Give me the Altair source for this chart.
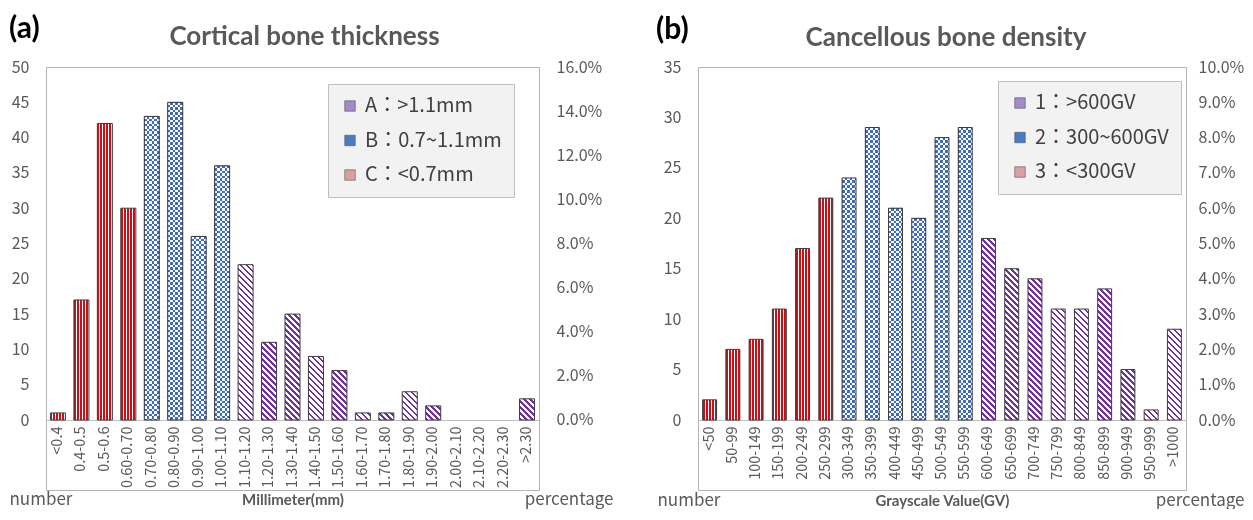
import altair as alt
import pandas as pd

# ---------------- data ----------------
cats_a = ["<0.4", "0.4-0.5", "0.5-0.6", "0.60-0.70", "0.70-0.80", "0.80-0.90", "0.90-1.00",
          "1.00-1.10", "1.10-1.20", "1.20-1.30", "1.30-1.40", "1.40-1.50", "1.50-1.60",
          "1.60-1.70", "1.70-1.80", "1.80-1.90", "1.90-2.00", "2.00-2.10", "2.10-2.20",
          "2.20-2.30", ">2.30"]
counts_a = [1, 17, 42, 30, 43, 45, 26, 36, 22, 11, 15, 9, 7, 1, 1, 4, 2, 0, 0, 0, 3]
groups_a = ["C"] * 4 + ["B"] * 4 + ["A"] * 13
legend_a = ["A：>1.1mm", "B：0.7~1.1mm", "C：<0.7mm"]
yticks_a = [0, 5, 10, 15, 20, 25, 30, 35, 40, 45, 50]
pticks_a = [0.0, 0.02, 0.04, 0.06, 0.08, 0.10, 0.12, 0.14, 0.16]

cats_b = ["<50", "50-99", "100-149", "150-199", "200-249", "250-299", "300-349", "350-399",
          "400-449", "450-499", "500-549", "550-599", "600-649", "650-699", "700-749",
          "750-799", "800-849", "850-899", "900-949", "950-999", ">1000"]
counts_b = [2, 7, 8, 11, 17, 22, 24, 29, 21, 20, 28, 29, 18, 15, 14, 11, 11, 13, 5, 1, 9]
groups_b = ["3"] * 6 + ["2"] * 6 + ["1"] * 9
legend_b = ["1：>600GV", "2：300~600GV", "3：<300GV"]
yticks_b = [0, 5, 10, 15, 20, 25, 30, 35]
pticks_b = [0.0, 0.01, 0.02, 0.03, 0.04, 0.05, 0.06, 0.07, 0.08, 0.09, 0.10]

# ---------------- styles ----------------
RED = "#c0141c"
BLUE = "#3d6cc0"
PURPLE = "#7030a0"
WHITE = "#ffffff"
GRAY = "#595959"
LEG_COLORS = ["#a28acb", "#4a7cc6", "#d9a0a0"]
TICK_FONT = "Noto Sans CJK TC"
TITLE_FONT = "Lato"


def stripe_stops(c1, c2, n, frac):
    stops = []
    k = 0
    while k / n < 1:
        a = k / n
        b = min((k + frac) / n, 1.0)
        c = min((k + 1) / n, 1.0)
        stops += [{"offset": round(a, 5), "color": c1}, {"offset": round(b, 5), "color": c1},
                  {"offset": round(b, 5), "color": c2}, {"offset": round(c, 5), "color": c2}]
        k += 1
    return stops


def panel(cats, counts, groups, leg_labels, letter, title, xtitle, W, H, ymin, ymax, yvals,
          pmin, pmax, pvals, pin, pout, xoff, legx, legy, letter_x, letter_y, title_dx,
          title_y, num_x, pct_x, bottom_y, pct_pad):
    n = len(cats)
    step = W / (n - pin + 2 * pout)
    bw = step * (1 - pin)
    ppu = H / (ymax - ymin)
    keys = sorted(set(groups))
    lab = dict(zip(keys, leg_labels))
    df = pd.DataFrame({"cat": cats, "count": counts, "grp": groups})
    df["legend"] = [lab[g] for g in groups]
    base = alt.Chart(df)

    x_enc = alt.X(
        "cat:N", sort=cats,
        scale=alt.Scale(domain=cats, paddingInner=pin, paddingOuter=pout),
        axis=alt.Axis(title=xtitle, labelAngle=270, ticks=False, grid=False,
                      domainColor="#bfbfbf", domainWidth=1, offset=xoff, labelPadding=6,
                      labelFont=TICK_FONT, labelFontSize=14.5, labelColor=GRAY,
                      labelOverlap=False,
                      titleFont=TITLE_FONT, titleFontWeight="bold", titleFontSize=15,
                      titleColor=GRAY, titleY=bottom_y - xoff - H, titleBaseline="middle"))
    y_enc = alt.Y(
        "count:Q",
        scale=alt.Scale(domain=[ymin, ymax], nice=False, zero=False),
        axis=alt.Axis(values=yvals, domain=False, ticks=False, grid=False, labelPadding=17,
                      labelFont=TICK_FONT, labelFontSize=16, labelColor=GRAY,
                      title="number", titleAngle=0, titleAlign="left", titleBaseline="middle",
                      titleX=num_x, titleY=bottom_y, titleFont=TICK_FONT,
                      titleFontWeight="normal", titleFontSize=17, titleColor=GRAY))

    layers = []
    for cat, cnt, grp in zip(cats, counts, groups):
        if cnt <= 0:
            continue
        h = cnt * ppu
        sel = base.transform_filter(alt.datum.cat == cat)
        kind = keys.index(grp)
        if kind == 2:
            grad = {"gradient": "linear", "x1": 0, "y1": 0, "x2": 1, "y2": 0,
                    "stops": stripe_stops(RED, WHITE, bw / 3.0, 0.67)}
            layers.append(sel.mark_bar(fill=grad, strokeWidth=0).encode(x=x_enc, y=y_enc))
        elif kind == 0:
            c = (bw + h) / (bw * bw + h * h)
            grad = {"gradient": "linear", "x1": 0, "y1": 1, "x2": c * bw, "y2": 1 - c * h,
                    "stops": stripe_stops(PURPLE, WHITE, (bw + h) / 6.0, 0.42)}
            layers.append(sel.mark_bar(fill=grad, strokeWidth=0).encode(x=x_enc, y=y_enc))
        else:
            g1 = {"gradient": "linear", "x1": 0, "y1": 0, "x2": 1, "y2": 0,
                  "stops": stripe_stops("#000000", WHITE, bw / 5.0, 0.5)}
            g2 = {"gradient": "linear", "x1": 0, "y1": 0, "x2": 0, "y2": 1,
                  "stops": stripe_stops(WHITE, "#000000", h / 5.0, 0.5)}
            layers.append(sel.mark_bar(fill=g1, strokeWidth=0).encode(x=x_enc, y=y_enc))
            layers.append(sel.mark_bar(fill=g2, strokeWidth=0, blend="difference")
                          .encode(x=x_enc, y=y_enc))
            layers.append(sel.mark_bar(fill=BLUE, strokeWidth=0, blend="lighten")
                          .encode(x=x_enc, y=y_enc))

    layers.append(base.transform_filter(alt.datum.count > 0)
                  .mark_bar(fillOpacity=0, stroke="#3c3c3c", strokeWidth=1)
                  .encode(x=x_enc, y=y_enc))
    layers.append(base.mark_square(opacity=0, size=10).encode(
        x=x_enc, y=y_enc,
        color=alt.Color("legend:N",
                        scale=alt.Scale(domain=leg_labels, range=LEG_COLORS),
                        legend=alt.Legend(title=None, orient="none", legendX=legx, legendY=legy,
                                          direction="vertical", fillColor="#f2f2f2",
                                          strokeColor="#bfbfbf", padding=12,
                                          symbolType="square", symbolSize=110,
                                          symbolOpacity=1, symbolStrokeColor="#555555",
                                          symbolStrokeWidth=0.6, labelFont=TICK_FONT,
                                          labelFontSize=20, labelColor="#404040",
                                          rowPadding=14.5, labelOffset=5))))
    bars = alt.layer(*layers)

    pct = alt.Chart(pd.DataFrame({"p": pvals})).mark_point(opacity=0).encode(
        y=alt.Y("p:Q", scale=alt.Scale(domain=[pmin, pmax], nice=False, zero=False),
                axis=alt.Axis(orient="right", values=pvals, format=".1%", domain=False,
                              ticks=False, grid=False, labelPadding=pct_pad,
                              labelFont=TICK_FONT,
                              labelFontSize=16, labelColor=GRAY, title="percentage",
                              titleAngle=0, titleAlign="right", titleBaseline="middle",
                              titleX=pct_x, titleY=bottom_y, titleFont=TICK_FONT,
                              titleFontWeight="normal", titleFontSize=17, titleColor=GRAY)))

    letter_layer = alt.Chart(pd.DataFrame({"t": [letter]})).mark_text(
        font=TITLE_FONT, fontWeight="bold", fontSize=30, color="#000000", align="left",
        baseline="alphabetic").encode(text="t:N", x=alt.value(letter_x), y=alt.value(letter_y))
    title_layer = alt.Chart(pd.DataFrame({"t": [title]})).mark_text(
        font=TITLE_FONT, fontWeight="bold", fontSize=26, color=GRAY, align="center",
        baseline="alphabetic").encode(text="t:N", x=alt.value(W / 2 + title_dx),
                                      y=alt.value(title_y))

    return alt.layer(bars, pct, letter_layer, title_layer).resolve_scale(
        y="independent").properties(width=W, height=H)


left = panel(cats_a, counts_a, groups_a, legend_a, "(a)", "Cortical bone thickness",
             "Millimeter(mm)", W=493, H=423, ymin=-9.915, ymax=50, yvals=yticks_a,
             pmin=-0.03173, pmax=0.16, pvals=pticks_a, pin=0.36, pout=0.19, xoff=-70,
             legx=282, legy=17, letter_x=-37, letter_y=-29, title_dx=12, title_y=-22,
             num_x=-37, pct_x=74, bottom_y=432, pct_pad=17)
right = panel(cats_b, counts_b, groups_b, legend_b, "(b)", "Cancellous bone density",
              "Grayscale Value(GV)", W=488, H=423, ymin=-6.94, ymax=35, yvals=yticks_b,
              pmin=-0.01983, pmax=0.10, pvals=pticks_b, pin=0.40, pout=0.20, xoff=-70,
              legx=300, legy=14, letter_x=-42, letter_y=-28, title_dx=4, title_y=-21,
              num_x=-41, pct_x=58, bottom_y=433, pct_pad=12)

chart = alt.hconcat(left, right, spacing=41).resolve_scale(
    color="independent"
).resolve_legend(
    color="independent"
).properties(
    padding={"left": 0, "top": 5, "right": 0, "bottom": 0}
).configure_view(stroke="#b4b4b4", strokeWidth=1)

chart.save("out.html", embed_options={"renderer": "svg", "actions": False})
